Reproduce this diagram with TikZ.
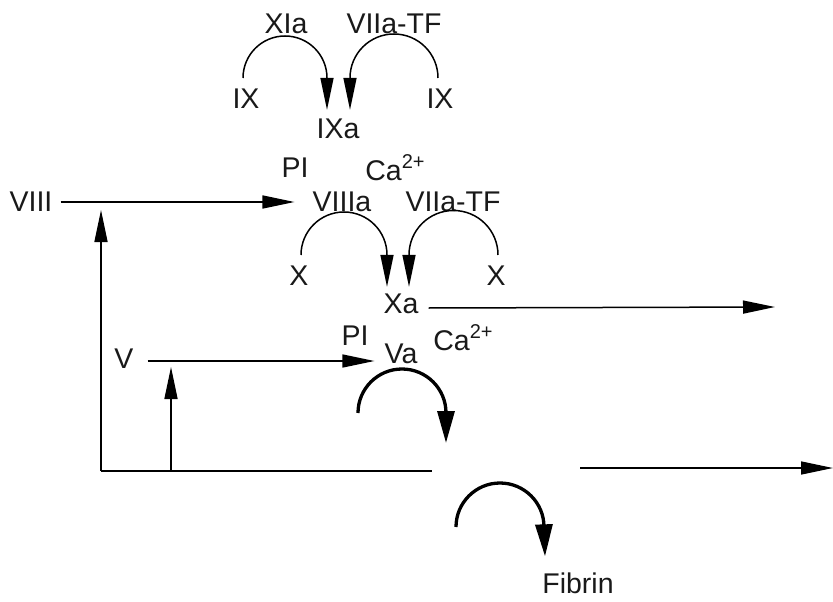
\documentclass[tikz,border=0pt]{standalone}
\usepackage{fontspec}
\setmainfont{Liberation Sans}
\usetikzlibrary{arrows.meta}
\newcommand{\casup}{Ca\raisebox{0.42em}{\fontsize{20}{20}\selectfont 2+}}
\begin{document}
\begin{tikzpicture}[x=1pt,y=1pt,
  lbl/.style={inner sep=0pt, font=\fontsize{28.5}{30}\selectfont, text=black!90},
  thinarr/.style={line width=1.5pt, -{Triangle[length=32pt,width=13pt]}},
  plainline/.style={line width=1.5pt},
  thickarr/.style={line width=3.3pt, -{Triangle[length=32pt,width=17pt]}}]
\useasboundingbox (0,0) rectangle (833,-602);
% labels
\node[lbl] (xia)    at (286,-24)  {XIa};
\node[lbl] (vtfA)   at (394,-24)  {VIIa-TF};
\node[lbl] (ixl)    at (246,-99)  {IX};
\node[lbl] (ixr)    at (440,-99)  {IX};
\node[lbl] (ixa)    at (338,-129) {IXa};
\node[lbl] (piA)    at (295,-168) {PI};
\node[lbl] (caA)    at (395,-168) {\casup};
\node[lbl] (viii)   at (31,-202)  {VIII};
\node[lbl] (viiia)  at (342,-202) {VIIIa};
\node[lbl] (vtfB)   at (453,-202) {VIIa-TF};
\node[lbl] (xl)     at (299,-276) {X};
\node[lbl] (xr)     at (496,-276) {X};
\node[lbl] (xa)     at (401,-304) {Xa};
\node[lbl] (piB)    at (355,-336) {PI};
\node[lbl] (caB)    at (463,-338) {\casup};
\node[lbl] (v)      at (124,-359) {V};
\node[lbl] (va)     at (401,-354) {Va};
\node[lbl] (fibrin) at (578,-583) {Fibrin};
% free ends
\coordinate (xaout)   at (775,-307);
\coordinate (corner)  at (101,-471);
\coordinate (gapL)    at (432,-471);
\coordinate (gapR)    at (580,-468);
\coordinate (outR)    at (833,-468);
\coordinate (upVIII)  at (101,-210);
\coordinate (footV)   at (171,-471);
\coordinate (upV)     at (171,-367);
\coordinate (vaarcS)  at (358,-413);
\coordinate (vaarcE)  at (446,-443);
\coordinate (fibS)    at (456,-527);
% top arcs
\draw[thinarr] (ixl.north) ++(-3,11) arc[start angle=180,end angle=0,radius=42]
  -- ([xshift=-11pt,yshift=9pt]ixa.north);
\draw[thinarr] (ixr.north) ++(-2,11) arc[start angle=0,end angle=180,radius=44]
  -- ([xshift=12pt,yshift=9pt]ixa.north);
% middle arcs
\draw[thinarr] (xl.north) ++(2,11) arc[start angle=180,end angle=0,radius=43]
  -- ([xshift=-14pt,yshift=7pt]xa.north);
\draw[thinarr] (xr.north) ++(2,11) arc[start angle=0,end angle=180,radius=44.5]
  -- ([xshift=8pt,yshift=7pt]xa.north);
% straight arrows
\draw[thinarr] ([xshift=8pt]viii.east) -- ([xshift=-18pt]viiia.west);
\draw[thinarr] ([xshift=14pt,yshift=-2pt]v.east) -- ([xshift=-10pt,yshift=-2pt]v.east -| va.west);
\draw[thinarr] ([xshift=10pt,yshift=-4pt]xa.east) -- (xaout);
\draw[plainline] (corner) -- (gapL);
\draw[thinarr] (gapR) -- (outR);
\draw[thinarr] (corner) -- (upVIII);
\draw[thinarr] (footV) -- (upV);
% thick arcs
\draw[thickarr] (vaarcS) arc[start angle=180,end angle=0,radius=44] -- (vaarcE);
\draw[thickarr] (fibS) arc[start angle=180,end angle=0,radius=44]
  -- ([xshift=-33pt,yshift=16pt]fibrin.north);
\end{tikzpicture}
\end{document}
